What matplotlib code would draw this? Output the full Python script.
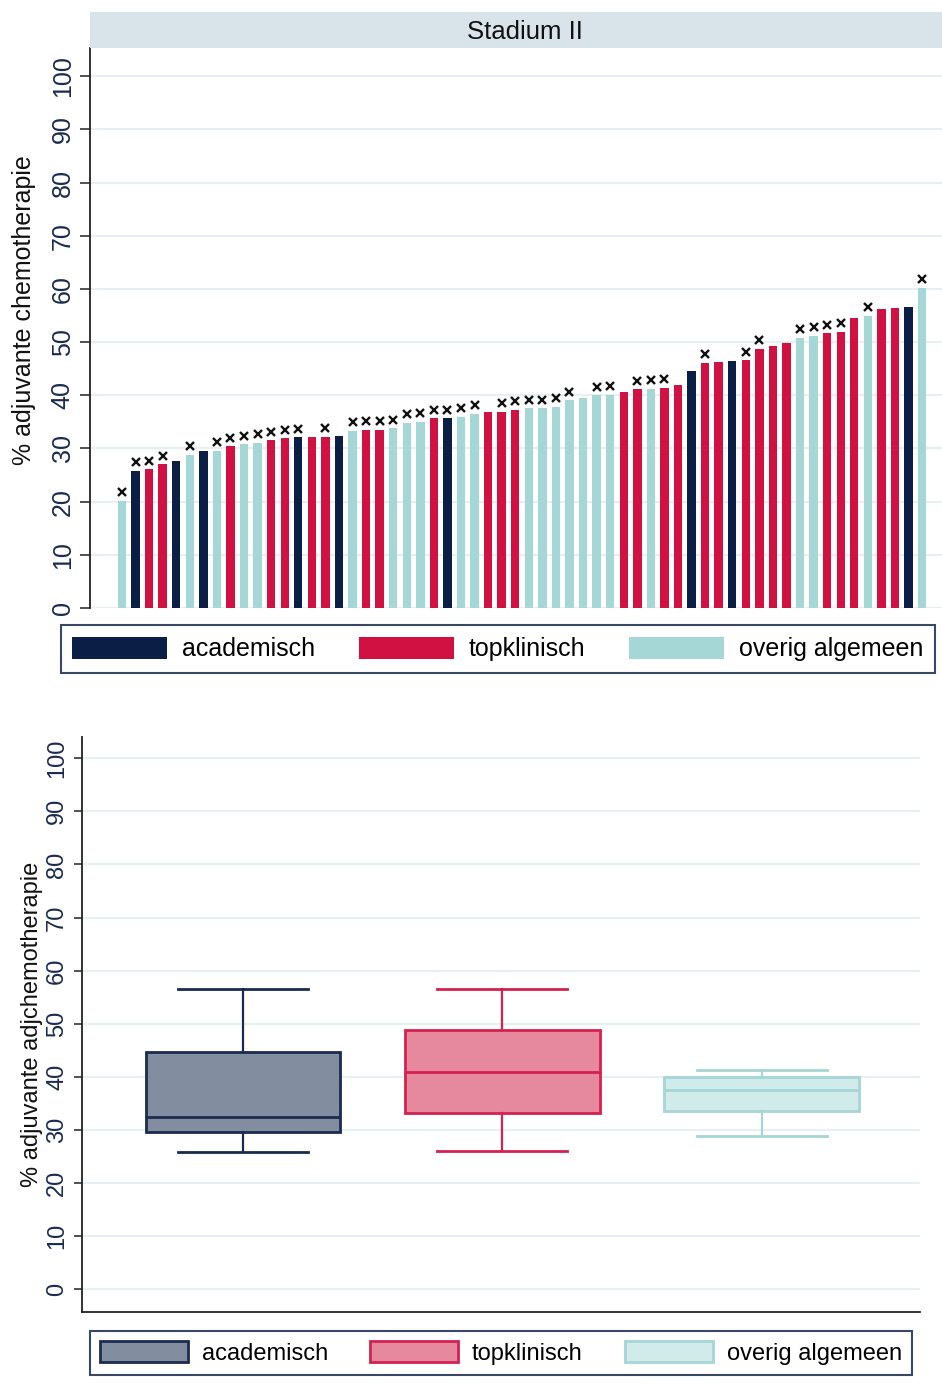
import numpy as np
import matplotlib
matplotlib.use("Agg")
import matplotlib.pyplot as plt
from matplotlib.patches import Patch

plt.rcParams['font.family'] = ['Liberation Sans', 'DejaVu Sans']

# data (sorted hospitals, stadium II)
pct = [20.2, 25.8, 26.1, 27.0, 27.6, 28.8, 29.6, 29.6, 30.4, 30.8,
       31.1, 31.5, 31.9, 32.1, 32.1, 32.2, 32.4, 33.3, 33.5, 33.5,
       33.8, 34.8, 35.0, 35.7, 35.7, 36.0, 36.5, 36.9, 36.9, 37.3,
       37.6, 37.6, 37.8, 39.1, 39.5, 40.0, 40.1, 40.6, 41.1, 41.2,
       41.4, 42.0, 44.6, 46.1, 46.2, 46.4, 46.6, 48.7, 49.2, 49.8,
       50.8, 51.2, 51.7, 51.9, 54.5, 55.0, 56.2, 56.5, 56.6, 60.2]
# a = academisch, t = topklinisch, o = overig algemeen
group = ['o', 'a', 't', 't', 'a', 'o', 'a', 'o', 't', 'o',
         'o', 't', 't', 'a', 't', 't', 'a', 'o', 't', 't',
         'o', 'o', 'o', 't', 'a', 'o', 'o', 't', 't', 't',
         'o', 'o', 'o', 'o', 'o', 'o', 'o', 't', 't', 'o',
         't', 't', 'a', 't', 't', 'a', 't', 't', 't', 't',
         'o', 'o', 't', 't', 't', 'o', 't', 't', 'a', 'o']
flag = [1, 1, 1, 1, 0, 1, 0, 1, 1, 1,
        1, 1, 1, 1, 0, 1, 0, 1, 1, 1,
        1, 1, 1, 1, 1, 1, 1, 0, 1, 1,
        1, 1, 1, 1, 0, 1, 1, 0, 1, 1,
        1, 0, 0, 1, 0, 0, 1, 1, 0, 0,
        1, 1, 1, 1, 0, 1, 0, 0, 0, 1]

cats = ['academisch', 'topklinisch', 'overig algemeen']
codes = ['a', 't', 'o']
bar_col = {'a': '#0b1e45', 't': '#d11141', 'o': '#a6d7d7'}
box_face = ['#838da0', '#e6889e', '#d1eaea']
box_edge = ['#1b2b50', '#d42150', '#a6d5d5']
tick_col = '#1a2a50'
grid_col = '#e6eff2'

fig = plt.figure(figsize=(9.42, 14), dpi=100)

# ---- top: bar chart
ax = fig.add_axes([90/942, 1-608/1400, 852/942, 560/1400])
x = np.arange(len(pct))
ax.bar(x, pct, width=0.62, color=[bar_col[g] for g in group], zorder=3)
fx = [i for i in x if flag[i]]
fy = [pct[i] + 1.6 for i in x if flag[i]]
ax.plot(fx, fy, 'x', color='#111111', ms=5.5, mew=1.7, zorder=4)
ax.set_xlim(-2.36, 60.47)
ax.set_ylim(0, 105.3)
ax.set_yticks(range(0, 101, 10))
ax.set_yticklabels([str(v) for v in range(0, 101, 10)], rotation=90, va='center',
                   fontsize=18, color=tick_col)
ax.tick_params(axis='y', length=7, width=1.2, color='#333333', pad=4)
ax.set_xticks([])
ax.grid(axis='y', color=grid_col, lw=1.5, zorder=0)
for s in ['top', 'right', 'bottom']:
    ax.spines[s].set_visible(False)
ax.spines['left'].set_color('#222222')
ax.spines['left'].set_linewidth(1.3)
ax.set_ylabel('% adjuvante chemotherapie', fontsize=18, color='#111111')
ax.yaxis.set_label_coords(-54/852, 0.532)

# header strip
hd = fig.add_axes([90/942, 1-48/1400, 852/942, 36/1400])
hd.set_facecolor('#d9e4ea')
hd.set_xticks([]); hd.set_yticks([])
for s in hd.spines.values():
    s.set_visible(False)
hd.text(0.51, 0.45, 'Stadium II', ha='center', va='center', fontsize=18.5, color='#111111')

h1 = [Patch(facecolor=bar_col[c], edgecolor='none') for c in codes]
lg1 = fig.legend(h1, cats, loc='center', bbox_to_anchor=(498/942, 1-649/1400), ncol=3,
                 fontsize=18, handlelength=3.8, handleheight=1.0, handletextpad=0.6,
                 columnspacing=1.75, borderpad=0.45, fancybox=False, framealpha=1)
lg1.get_frame().set_edgecolor('#3a4766')
lg1.get_frame().set_linewidth(1.5)

# ---- bottom: box plot per group
bx = fig.add_axes([82/942, 1-1312/1400, 838/942, 575/1400])
grp_vals = [[p for p, g in zip(pct, group) if g == c] for c in codes]
bp = bx.boxplot(grp_vals, positions=[1, 2, 3], widths=0.75, showfliers=False,
                patch_artist=True, capwidths=0.5, zorder=3)
for i in range(3):
    bp['boxes'][i].set(facecolor=box_face[i], edgecolor=box_edge[i], linewidth=2)
    bp['medians'][i].set(color=box_edge[i], linewidth=2)
    for w in bp['whiskers'][2*i:2*i+2]:
        w.set(color=box_edge[i], linewidth=1.6)
    for c in bp['caps'][2*i:2*i+2]:
        c.set(color=box_edge[i], linewidth=2)
bx.set_xlim(0.38, 3.61)
bx.set_ylim(-4.3, 104)
bx.set_yticks(range(0, 101, 10))
bx.set_yticklabels([str(v) for v in range(0, 101, 10)], rotation=90, va='center',
                   fontsize=17, color=tick_col)
bx.tick_params(axis='y', length=6, width=1.2, color='#333333', pad=4)
bx.set_xticks([])
bx.grid(axis='y', color=grid_col, lw=1.5, zorder=0)
for s in ['top', 'right']:
    bx.spines[s].set_visible(False)
for s in ['left', 'bottom']:
    bx.spines[s].set_color('#222222')
    bx.spines[s].set_linewidth(1.3)
bx.set_ylabel('% adjuvante adjchemotherapie', fontsize=17, color='#111111', labelpad=2)

h2 = [Patch(facecolor=box_face[i], edgecolor=box_edge[i], linewidth=2) for i in range(3)]
lg2 = fig.legend(h2, cats, loc='center', bbox_to_anchor=(501/942, 1-1353/1400), ncol=3,
                 fontsize=17, handlelength=3.7, handleheight=0.95, handletextpad=0.6,
                 columnspacing=1.8, borderpad=0.45, fancybox=False, framealpha=1)
lg2.get_frame().set_edgecolor('#3a4766')
lg2.get_frame().set_linewidth(1.5)

fig.savefig('out.png', dpi=100)
